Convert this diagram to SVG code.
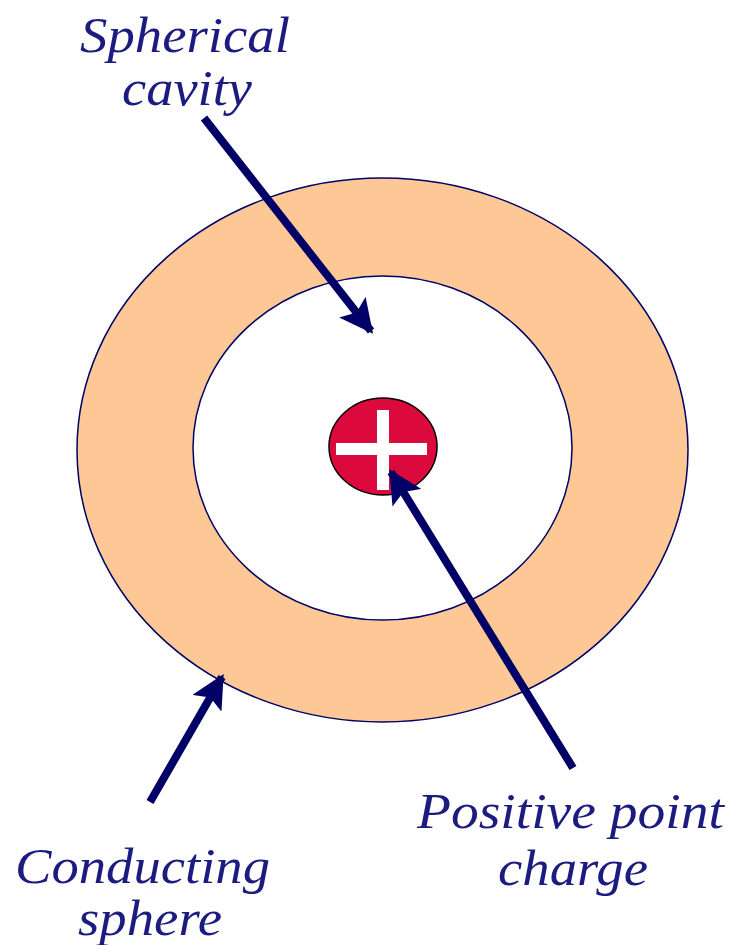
<svg xmlns="http://www.w3.org/2000/svg" width="732" height="945" viewBox="0 0 732 945">
<style>
.lbl{font-family:"Liberation Serif","Times New Roman",serif;font-style:italic;font-size:50px;fill:#1c1c80;lengthAdjust:spacingAndGlyphs}
.arr{stroke:#000066;stroke-width:8;fill:none;marker-end:url(#ah)}
</style>
<defs>
<marker id="ah" viewBox="0 0 10 10" refX="9" refY="5" markerWidth="4.2" markerHeight="4.2" orient="auto" markerUnits="strokeWidth">
<path d="M0,0 L10,5 L0,10 L2,5 Z" fill="#000066"/>
</marker>
</defs>
<rect width="732" height="945" fill="#fff"/>
<g id="conducting-sphere">
<ellipse cx="382.5" cy="450" rx="305.5" ry="272" fill="#fdc896" stroke="#000066" stroke-width="1.5"/>
</g>
<g id="cavity">
<ellipse cx="382.5" cy="448" rx="189.5" ry="172" fill="#fff" stroke="#000066" stroke-width="1.5"/>
</g>
<g id="charge">
<ellipse cx="383" cy="446.5" rx="54" ry="48.5" fill="#dc0a3c" stroke="#000" stroke-width="1.5"/>
<rect x="336" y="443" width="91" height="12" fill="#fff"/>
<rect x="377" y="410" width="12" height="80" fill="#fff"/>
</g>
<g id="connectors">
<line class="arr" x1="204" y1="118" x2="371" y2="331"/>
<line class="arr" x1="573" y1="768" x2="391" y2="472"/>
<line class="arr" x1="150" y1="802" x2="222" y2="677"/>
</g>
<g id="label-cavity">
<text class="lbl" x="80" y="52" textLength="210" lengthAdjust="spacingAndGlyphs">Spherical</text>
<text class="lbl" x="122" y="105" textLength="130" lengthAdjust="spacingAndGlyphs">cavity</text>
</g>
<g id="label-charge">
<text class="lbl" x="417" y="828" textLength="307" lengthAdjust="spacingAndGlyphs">Positive point</text>
<text class="lbl" x="498" y="885" textLength="150" lengthAdjust="spacingAndGlyphs">charge</text>
</g>
<g id="label-sphere">
<text class="lbl" x="15" y="883" textLength="255" lengthAdjust="spacingAndGlyphs">Conducting</text>
<text class="lbl" x="78" y="935" textLength="144" lengthAdjust="spacingAndGlyphs">sphere</text>
</g>
</svg>
